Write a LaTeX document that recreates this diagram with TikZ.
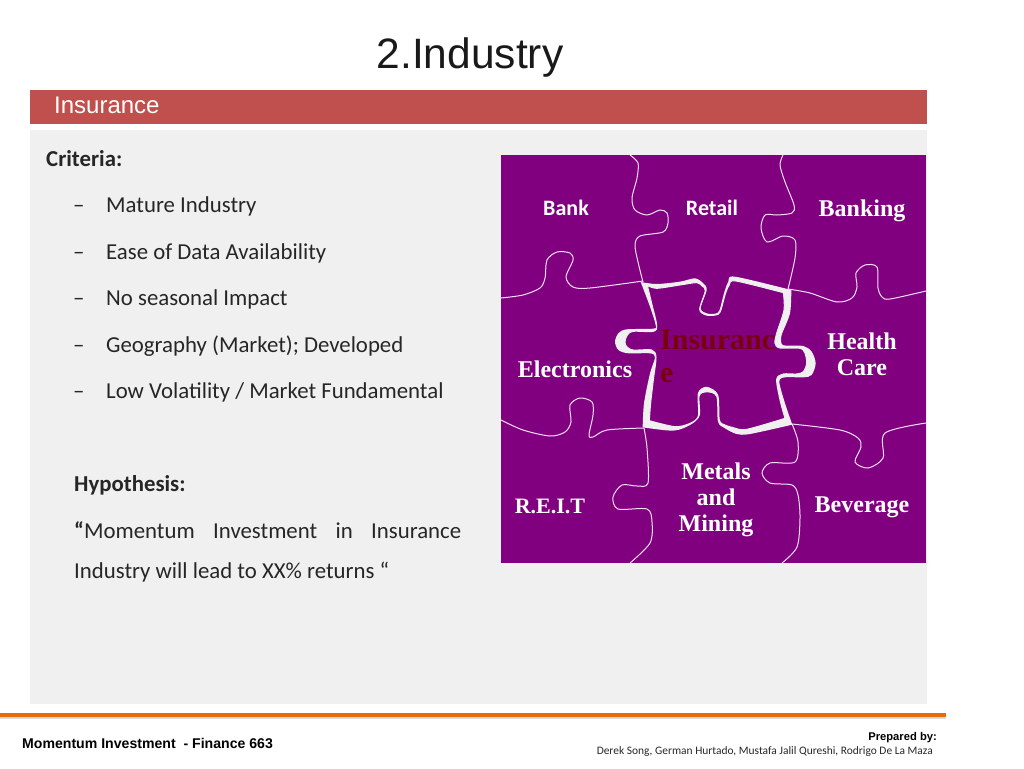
\documentclass[tikz,border=0pt]{standalone}
\usepackage[svgnames]{xcolor}
\usepackage{fontspec}
\setmainfont{Carlito}
\newfontfamily\headfont{Liberation Sans}
\newfontfamily\labelfont{Liberation Serif}
\definecolor{bannerred}{HTML}{C0504D}
\definecolor{panelgrey}{HTML}{F0F0F0}
\definecolor{footorange}{HTML}{E46C0A}
\definecolor{puzzlepurple}{HTML}{800080}
\definecolor{jointpink}{HTML}{F8E0F8}
\definecolor{insured}{HTML}{7A0010}
\tikzset{
  bodytext/.style={anchor=base west,inner sep=0pt,font=\fontsize{22.8}{26}\selectfont,text=black!85},
  capsbox/.style={inner sep=0pt,text=white,align=center,font=\fontsize{22}{26}\selectfont\bfseries},
  serifbox/.style={inner sep=0pt,text=white,align=center,font=\labelfont\fontsize{24}{26}\selectfont\bfseries},
  joint/.style={draw=jointpink,line width=1pt},
}
\def\pieceouter{
  plot[smooth] coordinates{(122,36) (170,42) (240,35) (285,25) (310,40) (320,60) (302,115) (320,130) (345,131) (358,122) (372,70) (385,35) (405,20) (574,60)}
  -- plot[smooth] coordinates{(574,60) (570,130) (545,195) (545,222) (560,227) (610,228) (635,245) (647,280) (635,315) (610,322) (555,322) (538,335) (555,400) (577,464)}
  -- plot[smooth] coordinates{(577,464) (450,492) (410,492) (375,475) (354,455) (349,380) (320,367) (299,378) (299,437) (270,465) (220,482) (128,472)}
  -- plot[smooth] coordinates{(128,472) (132,400) (150,310) (165,262) (150,250) (85,250) (55,240) (45,215) (55,190) (80,178) (160,176) (167,165) (150,110) (122,36)}
  -- cycle}
\def\pieceinner{
  plot[smooth] coordinates{(142,46) (170,55) (240,45) (290,38) (306,48) (316,62) (299,118) (318,135) (347,135) (361,125) (376,72) (388,45) (407,33) (550,68)}
  -- plot[smooth] coordinates{(550,68) (552,120) (530,190) (525,220) (540,234) (600,235) (615,250) (620,280) (610,305) (590,312) (550,312) (530,328) (540,390) (555,445)}
  -- plot[smooth] coordinates{(555,445) (440,478) (400,473) (375,465) (358,450) (353,375) (320,352) (295,370) (295,438) (270,460) (225,470) (148,452)}
  -- plot[smooth] coordinates{(148,452) (152,400) (160,330) (168,262) (155,240) (100,240) (80,230) (75,215) (82,195) (100,184) (160,184) (170,165) (155,100) (142,46)}
  -- cycle}
\begin{document}
\begin{tikzpicture}[x=1pt,y=-1pt]
\useasboundingbox (0,0) rectangle (1024,768);
\fill[bannerred] (30,90) rectangle (927,124);
\fill[panelgrey] (30,130) rectangle (927,704);
\node[inner sep=0pt,font=\headfont\fontsize{42.5}{50}\selectfont,text=black!90] (title) at (470,58) {2.Industry};
\node[anchor=west,inner sep=0pt,text=white,font=\headfont\fontsize{24}{28}\selectfont] (banner) at (54,105) {Insurance};
% left column
\node[bodytext,font=\fontsize{22.8}{26}\selectfont\bfseries] (criteria) at (46,166) {Criteria:};
\foreach \name/\ypos/\itemtext in
{
mature/212.5/Mature Industry,
data/259/Ease of Data Availability,
season/305.5/No seasonal Impact,
geo/352/Geography (Market); Developed,
vol/398.5/{Low Volatility / Market Fundamental}}
{
\node[bodytext] (dash-\name) at (73,\ypos) {–};
\node[bodytext] (item-\name) at (106,\ypos) {\itemtext};
}
\node[bodytext,font=\fontsize{22.8}{26}\selectfont\bfseries] (hypo) at (74,491) {Hypothesis:};
\node[bodytext] (hypo1) at (74,538) {\makebox[387pt][s]{\textbf{“}Momentum\hfil Investment\hfil in\hfil Insurance}};
\node[bodytext] (hypo2) at (74,578.5) {Industry will lead to XX\% returns “};
% puzzle
\fill[puzzlepurple] (501,155) rectangle (926,563);
\draw[joint] plot[smooth] coordinates{(630,155) (638,163) (637,178) (632,198) (635,210) (647,215) (660,210) (667,213) (668,223) (663,232) (640,236) (635,245) (638,262) (643,282)};
\draw[joint] plot[smooth] coordinates{(783,155) (780,165) (785,182) (794,205) (792,213) (777,215) (765,215) (761,228) (767,242) (783,236) (795,240) (795,258) (788,289)};
\draw[joint] plot[smooth] coordinates{(501,298) (523,295) (540,288) (545,278) (547,260) (557,252) (570,253) (573,260) (566,277) (573,287) (590,288) (643,281)};
\draw[joint] plot[smooth] coordinates{(788,289) (810,293) (837,302) (852,298) (857,287) (856,273) (865,265) (877,267) (878,288) (882,297) (890,299) (926,291)};
\draw[joint] plot[smooth] coordinates{(644,428) (647,448) (648,483) (637,486) (622,485) (613,497) (618,509) (647,509) (652,522) (650,543) (630,563)};
\draw[joint] plot[smooth] coordinates{(792,424) (798,442) (795,462) (770,463) (762,473) (770,483) (792,485) (798,495) (800,518) (797,547) (782,563)};
\draw[joint] plot[smooth] coordinates{(501,420) (523,430) (550,436) (565,432) (571,422) (570,405) (580,398) (592,402) (593,415) (589,435) (593,437) (607,430) (644,428)};
\draw[joint] plot[smooth] coordinates{(792,424) (840,430) (858,438) (861,447) (855,462) (868,468) (883,458) (885,433) (926,423)};
% centre piece, outer edge then inner edge
\begin{scope}[shift={(600,270)},scale=0.3333]
\fill[panelgrey] \pieceouter;
\fill[puzzlepurple] \pieceinner;
\draw[panelgrey,line width=1pt] \pieceinner;
\end{scope}
\foreach \name/\xpos/\ypos/\piecetext in
{
bank/566/208/Bank,
retail/712/208/Retail}
\node[capsbox] (\name) at (\xpos,\ypos) {\piecetext};
\foreach \name/\xpos/\ypos/\piecetext in
{
banking/862/211/Banking,
health/862/354/{Health\\Care},
electronics/575/369/Electronics,
metals/716/500/{Metals\\and\\Mining},
beverage/862/507/Beverage}
\node[serifbox] (\name) at (\xpos,\ypos) {\piecetext};
\node[serifbox,font=\labelfont\fontsize{22}{26}\selectfont\bfseries] (reit) at (550,506) {R.E.I.T};
\node[anchor=north west,inner sep=0pt,align=left,text=insured,font=\labelfont\fontsize{30}{33}\selectfont\bfseries] (insurance) at (660,330) {Insuranc\\e};
% footer
\fill[gray!30] (0,716) rectangle (946,719);
\fill[footorange] (0,713) rectangle (946,716.5);
\node[anchor=west,inner sep=0pt,font=\headfont\fontsize{14.1}{16}\selectfont\bfseries] (course) at (22,743) {Momentum Investment\ \ - Finance 663};
\node[anchor=east,inner sep=0pt,font=\headfont\fontsize{11.2}{14}\selectfont\bfseries] (prepared) at (937,738) {Prepared by:};
\node[anchor=east,inner sep=0pt,text=black!85,font=\fontsize{11.45}{13}\selectfont] (authors) at (933,751) {Derek Song, German Hurtado, Mustafa Jalil Qureshi, Rodrigo De La Maza};
\end{tikzpicture}
\end{document}
